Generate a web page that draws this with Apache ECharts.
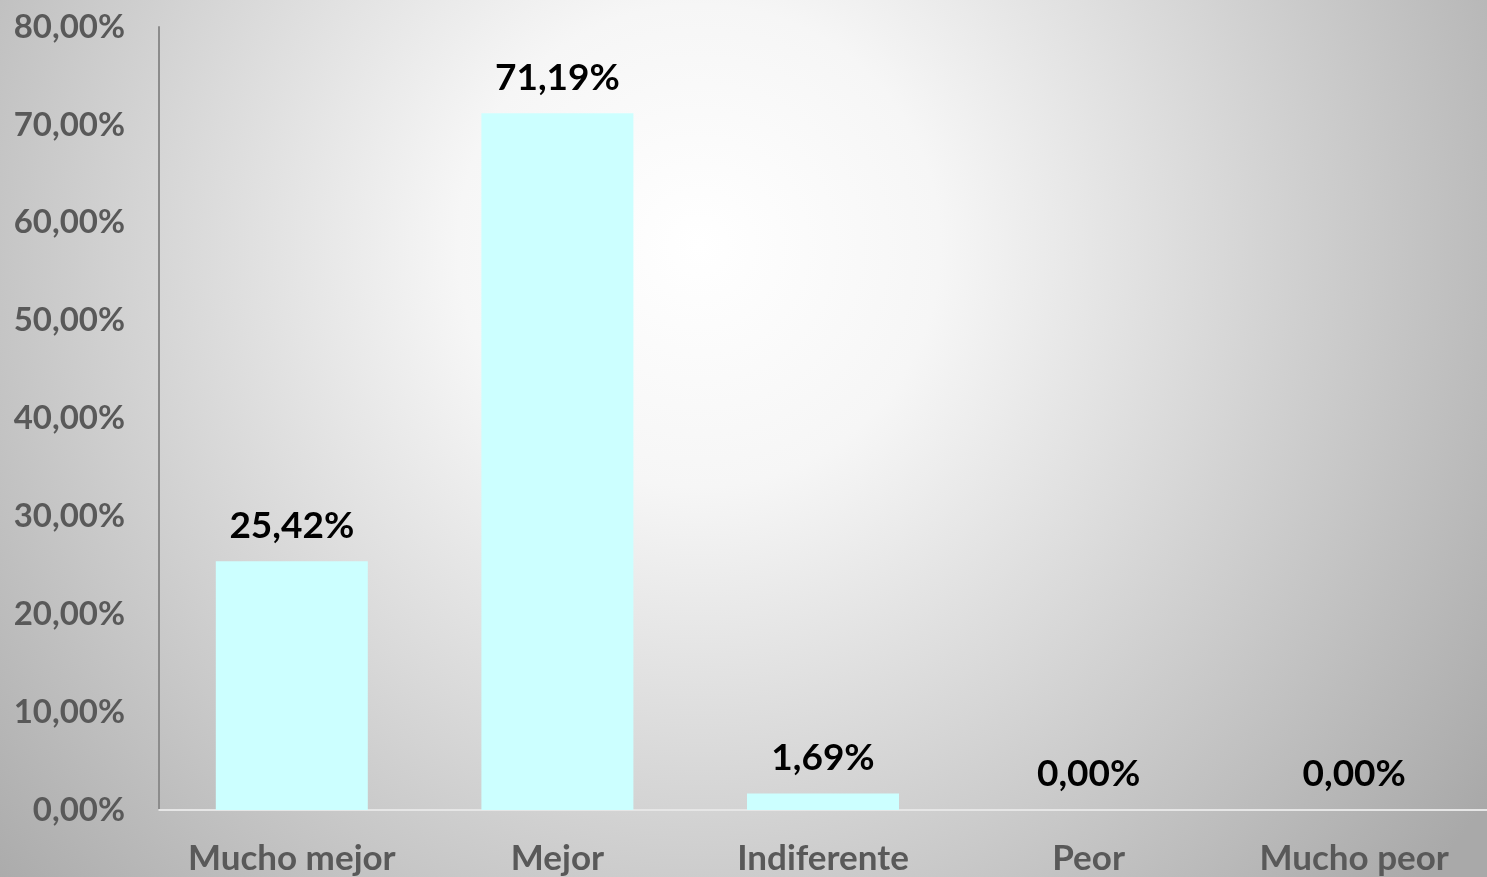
<!DOCTYPE html>
<html>
<head>
<meta charset="utf-8">
<script src="https://cdn.jsdelivr.net/npm/echarts@6/dist/echarts.min.js"></script>
<style>
  html, body { margin: 0; padding: 0; }
  #chart { width: 1487px; height: 877px; }
</style>
</head>
<body>
<div id="chart"></div>
<script>
// categorias y porcentajes
const categorias = ['Mucho mejor', 'Mejor', 'Indiferente', 'Peor', 'Mucho peor'];
const porcentajes = [25.42, 71.19, 1.69, 0, 0];

function fmtPct(v) {
  return v.toFixed(2).replace('.', ',') + '%';
}

let myChart = echarts.init(document.getElementById('chart'));
myChart.setOption({
  backgroundColor: {
    type: 'radial', x: 0.47, y: 0.28, r: 1.1,
    colorStops: [
      { offset: 0, color: '#ffffff' },
      { offset: 0.25, color: '#f6f6f6' },
      { offset: 1, color: '#a9a9a9' }
    ]
  },
  grid: { left: 159, top: 27, right: 0, bottom: 67 },
  xAxis: {
    type: 'category',
    data: categorias,
    axisLine: { lineStyle: { color: '#e6e6e6', width: 2 } },
    axisTick: { show: false },
    axisLabel: {
      interval: 0,
      hideOverlap: false,
      color: '#595959', fontFamily: 'Lato', fontWeight: 'bold', fontSize: 35,
      margin: 31
    }
  },
  yAxis: {
    type: 'value',
    min: 0, max: 80, interval: 10,
    splitLine: { show: false },
    axisLine: { show: true, lineStyle: { color: '#8c8c8c', width: 2 } },
    axisTick: { show: false },
    axisLabel: {
      color: '#595959', fontFamily: 'Lato', fontWeight: 'bold', fontSize: 33,
      margin: 34,
      formatter: v => fmtPct(v)
    }
  },
  series: [{
    type: 'bar',
    data: porcentajes,
    barWidth: 152,
    itemStyle: { color: '#ccffff' },
    label: {
      show: true, position: 'top', distance: 17,
      color: '#000000', fontFamily: 'Lato', fontWeight: 'bold', fontSize: 37,
      formatter: p => fmtPct(p.value)
    }
  }]
});
</script>
</body>
</html>
